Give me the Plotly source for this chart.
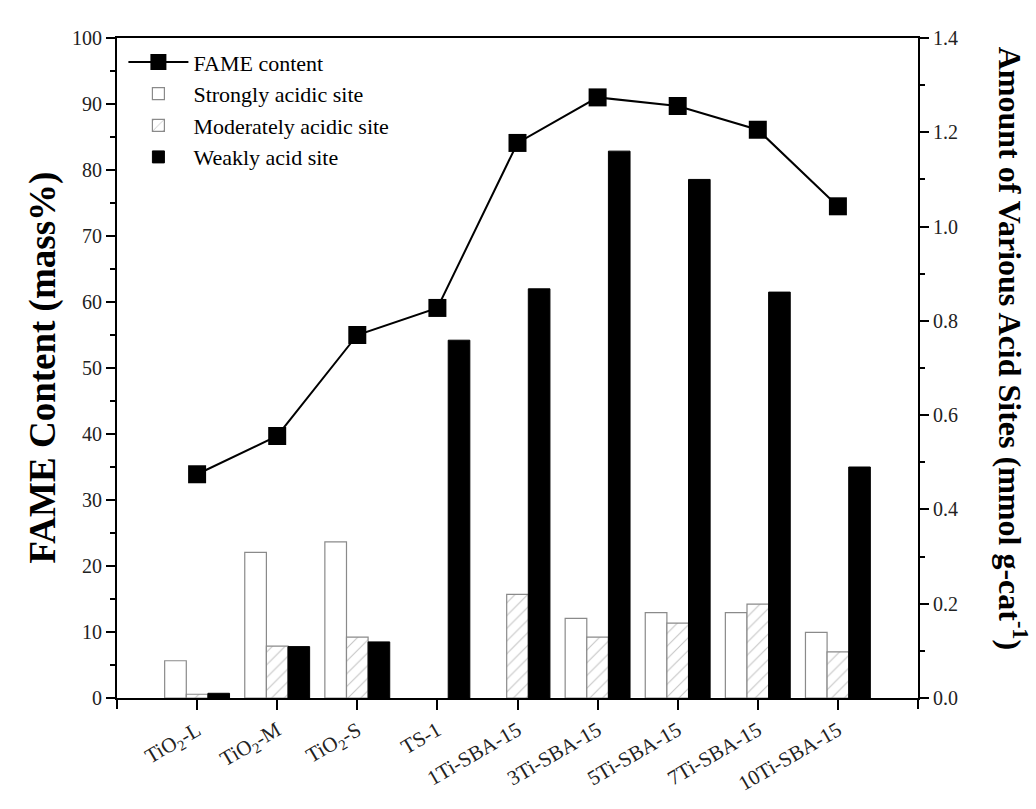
import plotly.graph_objects as go

categories = ["TiO<sub>2</sub>-L", "TiO<sub>2</sub>-M", "TiO<sub>2</sub>-S", "TS-1", "1Ti-SBA-15",
              "3Ti-SBA-15", "5Ti-SBA-15", "7Ti-SBA-15", "10Ti-SBA-15"]
fame_content = [33.9, 39.7, 55.0, 59.1, 84.1, 91.0, 89.7, 86.1, 74.5]
strong_sites = [0.079, 0.309, 0.331, 0.0, 0.0, 0.169, 0.181, 0.181, 0.139]
moderate_sites = [0.008, 0.110, 0.129, 0.0, 0.220, 0.129, 0.159, 0.199, 0.098]
weak_sites = [0.010, 0.109, 0.119, 0.759, 0.868, 1.160, 1.100, 0.861, 0.490]

x_pos = list(range(len(categories)))
font_family = "Liberation Serif, Times New Roman, serif"


def nz(values):
    # zero-height bars are not drawn in the reference
    return [v if v > 0 else None for v in values]


fig = go.Figure()

fig.add_trace(go.Scatter(
    x=x_pos, y=fame_content, name="FAME content", yaxis="y2",
    mode="lines+markers",
    line=dict(color="black", width=2),
    marker=dict(symbol="square", size=18, color="black"),
))
fig.add_trace(go.Bar(
    x=x_pos, y=nz(strong_sites), name="Strongly acidic site", yaxis="y",
    marker=dict(color="white", line=dict(color="#8a8a8a", width=1.2)),
))
fig.add_trace(go.Bar(
    x=x_pos, y=nz(moderate_sites), name="Moderately acidic site", yaxis="y",
    marker=dict(color="white", line=dict(color="#8a8a8a", width=1.2),
                pattern=dict(shape="/", fgcolor="#8a8a8a", bgcolor="white", size=9, solidity=0.12)),
))
fig.add_trace(go.Bar(
    x=x_pos, y=nz(weak_sites), name="Weakly acid site", yaxis="y",
    marker=dict(color="black", line=dict(color="black", width=1)),
))
# invisible helper trace so the frame axis (end ticks) is drawn
fig.add_trace(go.Scatter(x=[-1, 9], y=[0, 0], xaxis="x2", yaxis="y", mode="lines",
                         line=dict(width=0), showlegend=False, hoverinfo="skip"))

tick_font = dict(family=font_family, size=20, color="#222")
xtick_font = dict(family=font_family, size=21, color="#222")

fig.update_layout(
    width=1036, height=809,
    margin=dict(l=117, r=118, t=38, b=111),
    paper_bgcolor="white", plot_bgcolor="white",
    barmode="group", bargap=0.19, bargroupgap=0,
    font=dict(family=font_family, color="black"),
    showlegend=True,
    legend=dict(x=0.008, y=0.995, xanchor="left", yanchor="top",
                bgcolor="rgba(0,0,0,0)", borderwidth=0,
                font=dict(family=font_family, size=22, color="black"),
                tracegroupgap=0, itemwidth=60),
    xaxis=dict(
        range=[-1, 9], tickmode="array", tickvals=x_pos,
        ticktext=categories, tickangle=-30,
        ticks="outside", ticklen=10, tickwidth=2, tickcolor="black",
        showline=True, linecolor="black", linewidth=2, mirror=True,
        showgrid=False, zeroline=False, tickfont=xtick_font,
    ),
    xaxis2=dict(
        range=[-1, 9], overlaying="x", side="bottom", anchor="y",
        tickmode="array", tickvals=[-1, 9], showticklabels=False,
        ticks="outside", ticklen=10, tickwidth=2, tickcolor="black",
        showline=False, showgrid=False, zeroline=False,
    ),
    yaxis=dict(
        side="right", range=[0, 1.4], dtick=0.2, tickformat=".1f",
        ticks="outside", ticklen=9, tickwidth=2, tickcolor="black",
        minor=dict(dtick=0.1, ticks="outside", ticklen=5, tickwidth=1.5, tickcolor="black"),
        showline=True, linecolor="black", linewidth=2,
        showgrid=False, zeroline=False, tickfont=tick_font,
    ),
    yaxis2=dict(
        side="left", overlaying="y", range=[0, 100], dtick=10,
        ticks="outside", ticklen=9, tickwidth=2, tickcolor="black",
        minor=dict(dtick=5, ticks="outside", ticklen=5, tickwidth=1.5, tickcolor="black"),
        showline=True, linecolor="black", linewidth=2,
        showgrid=False, zeroline=False, tickfont=tick_font,
    ),
    annotations=[
        dict(
            text="<b>FAME Content (mass%)</b>",
            xref="paper", yref="paper", x=-0.093, y=0.5, xanchor="center", yanchor="middle",
            textangle=-90, showarrow=False,
            font=dict(family=font_family, size=37, color="black"),
        ),
        dict(
            text="<b>Amount of Various Acid Sites (mmol g-cat<sup>-1</sup>)</b>",
            xref="paper", yref="paper", x=1.118, y=0.53, xanchor="center", yanchor="middle",
            textangle=90, showarrow=False,
            font=dict(family=font_family, size=32, color="black"),
        ),
    ],
)

fig.write_html("out.html")
